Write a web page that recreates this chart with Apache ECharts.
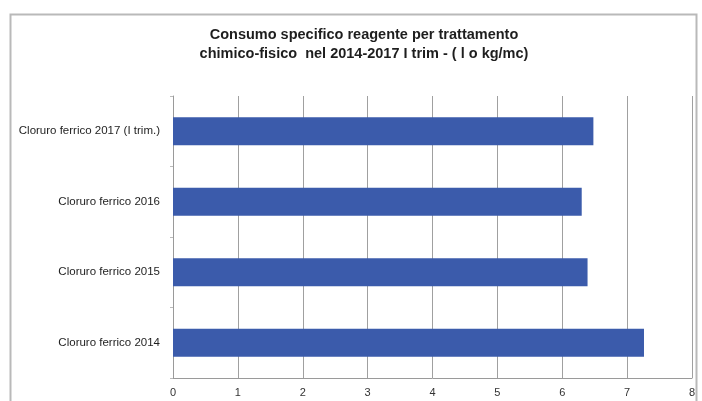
<!DOCTYPE html>
<html>
<head>
<meta charset="utf-8">
<script src="https://cdn.jsdelivr.net/npm/echarts@6/dist/echarts.min.js"></script>
<style>
  html, body { margin: 0; padding: 0; background: #fff; }
  #chart { width: 702px; height: 401px; }
</style>
</head>
<body>
<div id="chart"></div>
<script>
// Categories listed bottom to top on the vertical axis
const categories = [
  'Cloruro ferrico 2014',
  'Cloruro ferrico 2015',
  'Cloruro ferrico 2016',
  'Cloruro ferrico 2017 (I trim.)'
];
// Specific consumption, kg/mc
const values = [7.26, 6.39, 6.30, 6.48];
const xTicks = [0, 1, 2, 3, 4, 5, 6, 7, 8];

const titleLines = [
  'Consumo specifico reagente per trattamento',
  'chimico-fisico  nel 2014-2017 I trim - ( l o kg/mc)'
];

const chart = echarts.init(document.getElementById('chart'));
chart.setOption({
  backgroundColor: '#ffffff',
  animation: false,
  title: {
    text: titleLines.join('\n'),
    left: 359,
    textAlign: 'center',
    top: 20,
    textStyle: {
      fontFamily: 'Liberation Sans, Arial, sans-serif',
      fontWeight: 'bold',
      fontSize: 14.5,
      lineHeight: 19,
      color: '#1e1e1e'
    }
  },
  graphic: [{
    type: 'rect',
    shape: { x: 10.5, y: 14.5, width: 686, height: 420 },
    style: { fill: 'none', stroke: '#b9b9b9', lineWidth: 2 },
    silent: true
  }],
  grid: { left: 173, right: 10, top: 96, bottom: 23 },
  xAxis: {
    type: 'value',
    min: xTicks[0],
    max: xTicks[xTicks.length - 1],
    interval: 1,
    axisLine: { show: true, lineStyle: { color: '#9a9a9a', width: 1 } },
    axisTick: { show: false },
    axisLabel: {
      fontFamily: 'Liberation Sans, Arial, sans-serif',
      fontSize: 11,
      color: '#333',
      margin: 9
    },
    splitLine: { show: true, lineStyle: { color: '#a0a0a0', width: 1 } }
  },
  yAxis: {
    type: 'category',
    data: categories,
    axisLine: { show: true, lineStyle: { color: '#9a9a9a', width: 1 } },
    axisTick: { show: true, length: 3, lineStyle: { color: '#bbbbbb' } },
    axisLabel: {
      fontFamily: 'Liberation Sans, Arial, sans-serif',
      fontSize: 11.5,
      color: '#1e1e1e',
      margin: 13
    }
  },
  series: [{
    type: 'bar',
    data: values,
    barCategoryGap: '60%',
    itemStyle: { color: '#3b5bab' }
  }]
});
</script>
</body>
</html>
